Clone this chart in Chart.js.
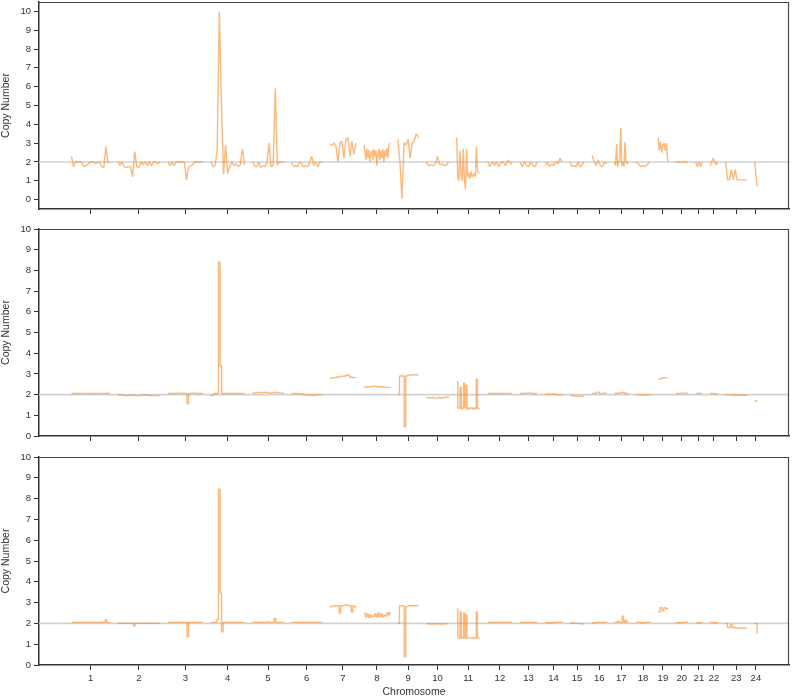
<!DOCTYPE html>
<html>
<head>
<meta charset="utf-8">
<script src="https://cdn.jsdelivr.net/npm/chart.js@4.4.1/dist/chart.umd.min.js"></script>
<style>
html,body{margin:0;padding:0;background:#fff;}
#wrap{position:relative;width:793px;height:698px;overflow:hidden;}
canvas{position:absolute;left:0;}
</style>
</head>
<body>
<div id="wrap">
<canvas id="c1" width="793" height="222" style="top:0px"></canvas>
<canvas id="c2" width="793" height="228" style="top:222px"></canvas>
<canvas id="c3" width="793" height="248" style="top:450px"></canvas>
</div>
<script>
// ---------- DATA ----------
const chromosomes = ['1','2','3','4','5','6','7','8','9','10','11','12','13','14','15','16','17','18','19','20','21','22','23','24'];
// effective plotted length of each chromosome (Mb)
const chromLengthMb = [232,250,215,208,195,192,170,170,142,152,155,162,125,125,110,112,108,110,88,100,72,78,145,52];
const chromPadMb = 20;           // empty margin at each end of a chromosome
const neutralCopyNumber = 2;     // grey reference line
const yTickValues = [0,1,2,3,4,5,6,7,8,9,10];

// copy number per chromosome, top sample (raw segments)
const copyNumberTop = [
  [2.3,1.75,2.0,2.0,2.0,2.0,1.75,1.8,1.85,2.0,2.0,2.0,1.9,2.0,2.0,1.75,1.7,2.8,2.0,1.95],
  [2.0,1.8,2.0,1.75,1.7,1.75,1.75,1.2,2.55,1.75,1.7,2.0,1.85,2.0,1.8,2.0,1.8,2.0,2.0,1.9,2.0],
  [2.0,1.8,2.0,1.8,2.0,2.0,2.0,2.0,2.0,1.05,1.7,1.8,1.85,2.0,2.0,2.0,2.0,2.0],
  [2.0,1.75,1.8,2.6,10.0,5.2,1.35,2.9,1.4,1.75,2.0,1.8,1.9,1.75,1.85,2.7,1.85],
  [2.0,1.8,1.75,2.0,1.7,1.8,1.75,2.0,3.0,1.75,1.8,5.9,1.85,2.0,2.0,1.95],
  [2.0,1.75,1.8,1.75,2.0,1.9,1.75,1.8,1.75,2.0,2.3,1.8,2.0,1.75,2.0,2.0],
  [2.95,2.9,3.0,2.85,2.0,3.0,3.1,2.2,3.2,3.3,2.3,3.1,2.4,3.0],
  [2.9,2.6,2.1,2.7,2.2,2.65,2.0,2.5,2.6,2.1,2.7,2.3,2.6,1.8,2.4,2.7,2.1,2.6,2.2,2.7,2.0,2.6,2.3,2.75,2.2,2.9,3.0],
  [3.2,2.0,0.05,3.0,2.9,3.2,2.2,3.0,3.1,3.5,3.3],
  [2.0,1.8,1.85,1.8,1.9,2.3,1.85,1.9,1.8,1.85,2.0],
  [3.3,1.2,1.0,2.6,1.3,1.0,2.7,1.1,0.55,2.7,1.2,1.4,1.1,1.5,1.2,1.3,1.4,1.2,2.8,1.5,1.45,1.4],
  [2.0,1.75,2.0,1.8,2.0,1.75,2.0,2.0,1.8,2.1,2.0,1.85],
  [2.0,1.75,2.0,1.8,1.75,2.0,1.8,1.75,2.0],
  [1.8,2.0,1.75,1.9,1.8,2.0,1.9,2.2,2.0],
  [2.0,1.75,1.8,1.75,2.0,1.75,1.85,2.0],
  [2.35,2.0,1.8,2.1,1.8,1.75,2.0,1.9],
  [2.0,1.8,2.95,1.75,2.0,2.1,3.8,1.8,2.0,1.75,3.05,2.0,1.9,2.0],
  [2.0,1.9,1.75,1.8,1.75,1.9,2.0],
  [3.3,2.6,3.1,2.5,2.9,3.0,2.6,3.0,2.0],
  [2.0,2.0,1.95,2.0,2.0,1.95],
  [2.0,1.75,2.0,1.75,2.0],
  [1.8,2.0,2.2,2.0,1.85,2.0],
  [2.0,1.05,1.05,1.6,1.05,1.6,1.05,1.05,1.05,1.05,1.05,1.05],
  [2.0,0.7]
];

// middle sample (smoothed)
const copyNumberMiddle = [
  [2.05,2.05,2.06,2.05,2.05,2.06,2.05,2.05],
  [1.98,1.95,1.97,1.95,1.98,1.96,1.95,1.97],
  [2.05,2.06,2.05,2.07,2.05,2.06,2.08,2.05,2.06,2.07,2.05,2.06,1.55,2.07,2.05,2.06,2.08,2.06,2.05,2.06,2.05,2.06,2.05],
  [1.95,2.0,2.05,2.05,2.05,8.4,3.4,2.05,2.05,2.05,2.06,2.05,2.05,2.07,2.05,2.05,2.06,2.05,2.05,2.05,2.06,2.05,2.05],
  [2.08,2.1,2.1,2.08,2.1,2.07,2.05],
  [2.05,2.03,2.0,1.98,2.0,2.02],
  [2.8,2.82,2.85,2.88,2.9,2.95,2.85,2.82,2.8],
  [2.37,2.38,2.4,2.38,2.37,2.35,2.32],
  [2.0,2.9,2.9,2.9,0.45,2.9,2.92,2.95,2.95,2.95,2.95,2.97,2.95,2.95],
  [1.85,1.85,1.83,1.85,1.85,1.87,1.85],
  [2.6,1.35,1.35,2.35,1.3,1.35,2.55,1.35,2.45,1.3,1.35,1.3,1.35,1.35,1.3,1.35,1.3,2.75,1.35,1.3,1.3],
  [2.05,2.05,2.05,2.06,2.05],
  [2.05,2.07,2.05,2.05],
  [2.02,2.02,2.0,2.03],
  [1.95,1.92,1.93,1.95],
  [2.05,2.12,2.05,2.07,2.05],
  [2.05,2.08,2.1,2.05,2.07],
  [2.0,1.98,2.0,1.98],
  [2.75,2.8,2.82,2.82],
  [2.05,2.07,2.05],
  [2.05,2.05],
  [2.05,2.03,2.05],
  [2.0,1.98,1.98,1.97,1.97],
  [1.7,1.65]
];

// bottom sample (smoothed)
const copyNumberBottom = [
  [2.05,2.05,2.05,2.05,2.05,2.05,2.05,2.05,2.05,2.05,2.05,2.05,2.05,2.05,2.05,2.05,2.05,2.05,2.05,2.05,2.05,2.05,2.18,2.05,2.05,2.05],
  [2.0,2.02,2.0,2.0,2.01,2.0,2.02,2.0,2.0,2.01,1.88,2.02,2.0,2.0,2.01,2.0,2.0,2.02,2.0,2.0,2.01,2.0,2.0,2.0,2.01,2.0,2.0,2.0],
  [2.05,2.05,2.05,2.05,2.05,2.05,2.05,2.05,2.05,2.05,2.05,2.05,1.35,2.05,2.05,2.05,2.05,2.05,2.05,2.05,2.05,2.05,2.05],
  [2.05,2.05,2.05,2.05,2.2,8.45,3.45,1.6,2.05,2.05,2.05,2.05,2.05,2.05,2.05,2.05,2.05,2.05,2.05,2.05,2.05,2.05,2.05],
  [2.05,2.05,2.05,2.05,2.05,2.05,2.05,2.05,2.05,2.05,2.08,2.05,2.05,2.05,2.25,2.05,2.05,2.05,2.05,2.05,2.05],
  [2.05,2.05,2.05,2.05,2.05,2.05],
  [2.8,2.82,2.85,2.85,2.85,2.85,2.5,2.85,2.85,2.88,2.9,2.88,2.85,2.85,2.55,2.85,2.8,2.75],
  [2.5,2.3,2.45,2.28,2.4,2.3,2.35,2.45,2.3,2.5,2.32,2.45,2.3,2.4,2.35,2.5,2.4,2.55],
  [2.0,2.85,2.85,2.85,0.4,2.8,2.82,2.85,2.85,2.85,2.85,2.85,2.85,2.85],
  [1.98,1.97,1.98,1.97,1.98,1.98],
  [2.7,1.3,1.3,2.55,1.3,1.3,2.5,1.3,2.4,1.3,1.3,1.3,1.3,1.3,1.3,1.3,1.3,2.55,1.3,1.3,1.3],
  [2.05,2.05,2.05,2.05],
  [2.05,2.05,2.04,2.05],
  [2.03,2.05,2.03],
  [2.02,2.0,1.98,2.02],
  [2.03,2.05,2.05,2.03],
  [2.05,2.05,2.1,2.05,2.05,2.35,2.05,2.15,2.05,2.05],
  [2.05,2.03,2.05,2.03],
  [2.55,2.75,2.6,2.75,2.7,2.75],
  [2.03,2.05,2.03],
  [2.03,2.05],
  [2.05,2.03,2.05],
  [2.0,1.8,1.8,1.95,1.8,1.8,1.78,1.78,1.78,1.78,1.78,1.78,1.78,1.78],
  [2.0,1.5]
];

// ---------- BUILD ----------
const chromStart = [];
{ let acc = 0; chromLengthMb.forEach(L => { chromStart.push(acc); acc += L; }); }
const chromMid = chromLengthMb.map((L, i) => chromStart[i] + L / 2);

const X_MIN = -142.5, X_MAX = 3607.5;

function buildPoints(sample) {
  const pts = [];
  sample.forEach((vals, i) => {
    const a = chromStart[i] + chromPadMb;
    const b = chromStart[i] + chromLengthMb[i] - chromPadMb;
    const n = vals.length;
    vals.forEach((v, k) => pts.push({ x: n > 1 ? a + (b - a) * k / (n - 1) : (a + b) / 2, y: v }));
    pts.push({ x: b + 1, y: null });
  });
  return pts;
}

Chart.defaults.font.family = '"Liberation Sans", Arial, Helvetica, sans-serif';
Chart.defaults.color = '#333';

const boxPlugin = {
  id: 'box',
  afterDraw(chart) {
    const { ctx, chartArea: ca } = chart;
    ctx.save();
    ctx.strokeStyle = '#4a4a4a';
    ctx.lineWidth = 1.2;
    ctx.beginPath();
    ctx.moveTo(ca.left, ca.top + 0.5);
    ctx.lineTo(ca.right - 0.5, ca.top + 0.5);
    ctx.lineTo(ca.right - 0.5, ca.bottom);
    ctx.stroke();
    ctx.restore();
  }
};

function makeChart(id, sample, opts) {
  const ctx = document.getElementById(id);
  return new Chart(ctx, {
    type: 'line',
    data: {
      datasets: [
        {
          data: buildPoints(sample),
          borderColor: 'rgba(251,140,40,0.62)',
          borderWidth: 1.4,
          borderJoinStyle: 'bevel',
          pointRadius: 0,
          tension: 0,
          stepped: opts.stepped,
          spanGaps: false,
          order: 1
        },
        {
          data: [{ x: X_MIN, y: neutralCopyNumber }, { x: X_MAX, y: neutralCopyNumber }],
          borderColor: '#d2d2d2',
          borderWidth: 1.6,
          pointRadius: 0,
          order: 2
        }
      ]
    },
    options: {
      responsive: false,
      animation: false,
      devicePixelRatio: 1,
      layout: { padding: { top: opts.padTop, right: 4, left: 0, bottom: 0 } },
      plugins: { legend: { display: false }, tooltip: { enabled: false } },
      scales: {
        x: {
          type: 'linear',
          min: X_MIN,
          max: X_MAX,
          afterBuildTicks: s => { s.ticks = chromMid.map(v => ({ value: v })); },
          afterFit: s => { s.height = opts.xHeight; s.paddingLeft = 0; s.paddingRight = 0; },
          ticks: {
            display: opts.showLabels,
            autoSkip: false,
            maxRotation: 0,
            padding: 3,
            font: { size: 9.5 },
            color: '#333',
            callback: (v, i) => chromosomes[i]
          },
          grid: { display: true, drawOnChartArea: false, drawTicks: true, tickLength: 5, color: '#333', lineWidth: 1 },
          border: { display: true, color: '#333', width: 1.5 },
          title: {
            display: opts.showLabels,
            text: 'Chromosome',
            font: { size: 10.5 },
            color: '#333',
            padding: { top: 0, bottom: 0 }
          }
        },
        y: {
          type: 'linear',
          min: opts.yMin,
          max: opts.yMax,
          afterBuildTicks: s => { s.ticks = yTickValues.map(v => ({ value: v })); },
          afterFit: s => { s.width = 39; s.paddingTop = 0; s.paddingBottom = 0; },
          ticks: { padding: 3, font: { size: 9.5 }, color: '#333' },
          grid: { display: true, drawOnChartArea: false, drawTicks: true, tickLength: 5, color: '#333', lineWidth: 1 },
          border: { display: true, color: '#333', width: 1.5 },
          title: {
            display: true,
            text: 'Copy Number',
            font: { size: 10.5 },
            color: '#333',
            padding: { top: 0, bottom: 0 }
          }
        }
      }
    },
    plugins: [boxPlugin]
  });
}

makeChart('c1', copyNumberTop,    { padTop: 2, xHeight: 13, yMin: -0.5, yMax: 10.5, showLabels: false, stepped: false });
makeChart('c2', copyNumberMiddle, { padTop: 7, xHeight: 14, yMin: 0, yMax: 10, showLabels: false, stepped: true });
makeChart('c3', copyNumberBottom, { padTop: 7, xHeight: 33, yMin: 0, yMax: 10, showLabels: true, stepped: true });
</script>
</body>
</html>
